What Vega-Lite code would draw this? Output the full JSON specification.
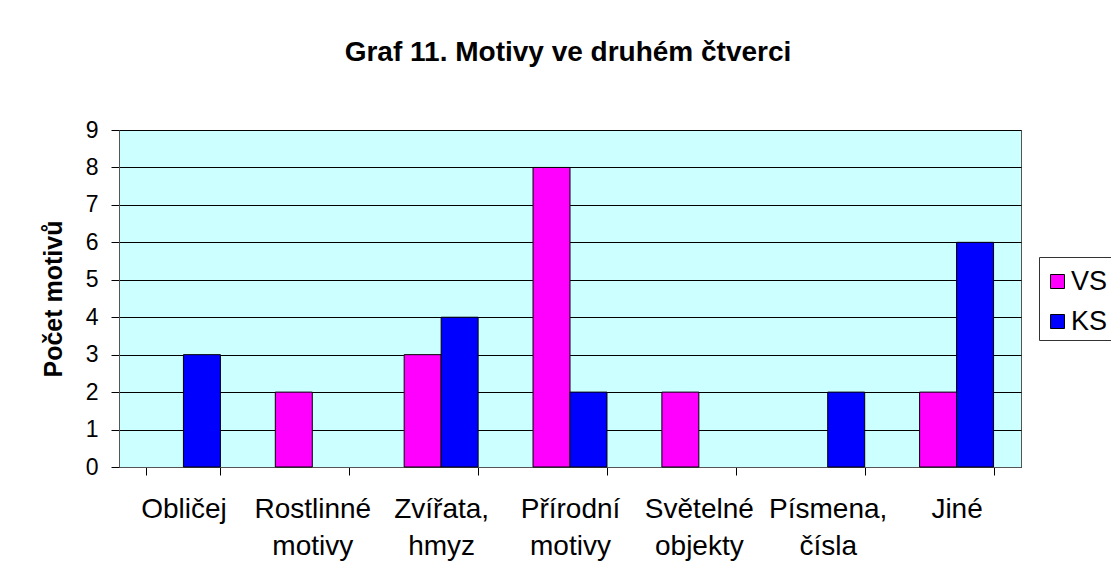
{
  "$schema": "https://vega.github.io/schema/vega-lite/v6.json",
  "width": 902,
  "height": 337,
  "autosize": {"type": "none"},
  "padding": {"left": 119, "top": 130, "right": 90, "bottom": 112},
  "background": "white",
  "title": {
    "text": "Graf 11. Motivy ve druhém čtverci",
    "font": "Liberation Sans",
    "fontSize": 28,
    "fontWeight": "bold",
    "color": "black",
    "anchor": "middle",
    "offset": 52,
    "dx": -2
  },
  "data": {
    "values": [
      {"motiv": "Obličej", "skupina": "KS", "pocet": 3},
      {"motiv": "Rostlinné motivy", "skupina": "VS", "pocet": 2},
      {"motiv": "Zvířata, hmyz", "skupina": "VS", "pocet": 3},
      {"motiv": "Zvířata, hmyz", "skupina": "KS", "pocet": 4},
      {"motiv": "Přírodní motivy", "skupina": "VS", "pocet": 8},
      {"motiv": "Přírodní motivy", "skupina": "KS", "pocet": 2},
      {"motiv": "Světelné objekty", "skupina": "VS", "pocet": 2},
      {"motiv": "Písmena, čísla", "skupina": "KS", "pocet": 2},
      {"motiv": "Jiné", "skupina": "VS", "pocet": 2},
      {"motiv": "Jiné", "skupina": "KS", "pocet": 6}
    ]
  },
  "mark": {"type": "bar", "stroke": "black", "strokeWidth": 1},
  "encoding": {
    "x": {
      "field": "motiv",
      "type": "nominal",
      "sort": ["Obličej", "Rostlinné motivy", "Zvířata, hmyz", "Přírodní motivy", "Světelné objekty", "Písmena, čísla", "Jiné"],
      "scale": {
        "domain": ["Obličej", "Rostlinné motivy", "Zvířata, hmyz", "Přírodní motivy", "Světelné objekty", "Písmena, čísla", "Jiné"],
        "paddingInner": 0.426,
        "paddingOuter": 0.213
      },
      "axis": {
        "title": null,
        "labelAngle": 0,
        "labelExpr": "split(datum.label, ' ')",
        "labelFont": "Liberation Sans",
        "labelFontSize": 28,
        "labelColor": "black",
        "labelLineHeight": 37,
        "labelPadding": 20,
        "labelBaseline": "top",
        "labelLimit": 200,
        "tickBand": "extent",
        "tickSize": 8,
        "tickColor": "black",
        "domainColor": "#555555",
        "grid": false
      }
    },
    "xOffset": {
      "field": "skupina",
      "type": "nominal",
      "scale": {"domain": ["VS", "KS"], "paddingInner": 0, "paddingOuter": 0}
    },
    "y": {
      "field": "pocet",
      "type": "quantitative",
      "scale": {"domain": [0, 9], "nice": false},
      "axis": {
        "title": "Počet motivů",
        "titleFont": "Liberation Sans",
        "titleFontSize": 25,
        "titleFontWeight": "bold",
        "titleColor": "black",
        "titlePadding": 19,
        "values": [0, 1, 2, 3, 4, 5, 6, 7, 8, 9],
        "labelFont": "Liberation Sans",
        "labelFontSize": 23,
        "labelColor": "black",
        "labelPadding": 13,
        "tickSize": 8,
        "tickColor": "black",
        "domainColor": "#555555",
        "grid": true,
        "gridColor": "black",
        "gridWidth": 1,
        "gridOpacity": 1
      }
    },
    "color": {
      "field": "skupina",
      "type": "nominal",
      "scale": {"domain": ["VS", "KS"], "range": ["#FF00FF", "#0000FF"]},
      "legend": {
        "title": " ",
        "titleFontSize": 2,
        "titlePadding": 4,
        "orient": "none",
        "legendX": 920,
        "legendY": 127,
        "symbolType": "square",
        "symbolSize": 196,
        "symbolStrokeColor": "black",
        "symbolStrokeWidth": 1,
        "labelFont": "Liberation Sans",
        "labelFontSize": 27,
        "labelColor": "black",
        "labelOffset": 0,
        "rowPadding": 12,
        "padding": 5,
        "strokeColor": "#333333",
        "fillColor": "white"
      }
    }
  },
  "config": {
    "view": {"fill": "#CCFFFF", "stroke": "#555555", "strokeWidth": 1}
  }
}
